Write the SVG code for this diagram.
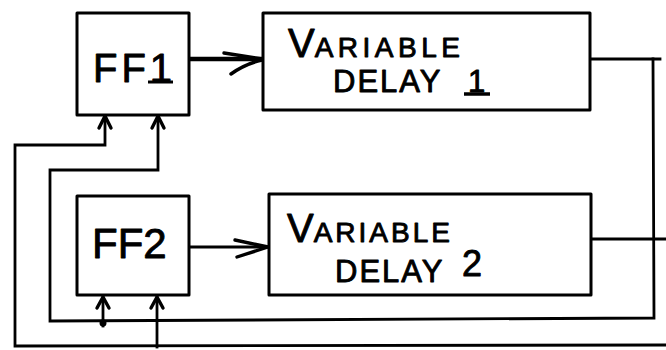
<svg xmlns="http://www.w3.org/2000/svg" width="666" height="350" viewBox="0 0 666 350">
  <style>
    .box { fill: #fff; stroke: #000; stroke-width: 3; stroke-linejoin: round; }
    .wire { fill: none; stroke: #000; stroke-width: 2.8; stroke-linejoin: miter; stroke-linecap: square; }
    .thick { stroke-width: 4.5; }
    .head { fill: none; stroke: #000; stroke-width: 3.4; stroke-linecap: round; stroke-linejoin: round; }
    .lbl { font-family: "Liberation Sans", Arial, sans-serif; fill: #000; stroke: #000; stroke-width: 0.9; stroke-linejoin: round; }
  </style>
  <rect width="666" height="350" fill="#fff"/>

  <!-- connectors -->
  <g id="connectors">
    <!-- FF1 to delay 1 -->
    <line class="wire thick" x1="189" y1="59" x2="262" y2="59"/>
    <path class="head" d="M224 53 L262 59 M231 74 Q245 64 262 60"/>
    <!-- FF2 to delay 2 -->
    <line class="wire" x1="189" y1="247" x2="268" y2="247"/>
    <path class="head" d="M235 240 L268 247 M237 257 L268 247"/>
    <!-- delay 1 output loop: inner feedback -->
    <polyline class="wire" points="590,59 660,59"/>
    <polyline class="wire" points="653,59 654,318 50,321 50,170 158,170 158,117"/>
    <path class="head" d="M152 128 L158 116 L164 128"/>
    <!-- tap into FF2 (left input) -->
    <line class="wire" x1="103" y1="326" x2="103" y2="297"/>
    <path class="head" d="M97 308 L103 297 L109 308"/>
    <circle cx="103" cy="323" r="3.5" fill="#000"/>
    <!-- delay 2 output loop: outer feedback -->
    <line class="wire" x1="592" y1="239" x2="666" y2="239"/>
    <polyline class="wire" points="666,345 15,346 15,145 105,145 105,117"/>
    <path class="head" d="M99 128 L105 116 L111 128"/>
    <!-- tap into FF2 (right input) -->
    <line class="wire" x1="157" y1="347" x2="157" y2="297"/>
    <path class="head" d="M151 308 L157 297 L163 308"/>
  </g>

  <g id="ff1">
    <rect class="box" x="77" y="13" width="112" height="102"/>
    <text class="lbl" x="93" y="82" font-size="40" letter-spacing="4">FF1</text>
    <line x1="148" y1="82" x2="173" y2="82" stroke="#000" stroke-width="3"/>
  </g>

  <g id="vd1">
    <rect class="box" x="263" y="13" width="327" height="97"/>
    <text class="lbl" y="57"><tspan x="288" font-size="40">V</tspan><tspan font-size="28" letter-spacing="4.5">ARIABLE</tspan></text>
    <text class="lbl" x="333" y="92" font-size="31" letter-spacing="2">DELAY</text>
    <text class="lbl" x="468" y="92" font-size="31">1</text>
    <line x1="464" y1="94" x2="490" y2="94" stroke="#000" stroke-width="3.5"/>
  </g>

  <g id="ff2">
    <rect class="box" x="77" y="196" width="112" height="99"/>
    <text class="lbl" x="92" y="258" font-size="42">FF2</text>
  </g>

  <g id="vd2">
    <rect class="box" x="269" y="194" width="322" height="101"/>
    <text class="lbl" y="242"><tspan x="287" font-size="40">V</tspan><tspan font-size="28" letter-spacing="3">ARIABLE</tspan></text>
    <text class="lbl" x="335" y="282" font-size="31" letter-spacing="2">DELAY</text>
    <text class="lbl" x="462" y="276" font-size="36">2</text>
  </g>
</svg>
